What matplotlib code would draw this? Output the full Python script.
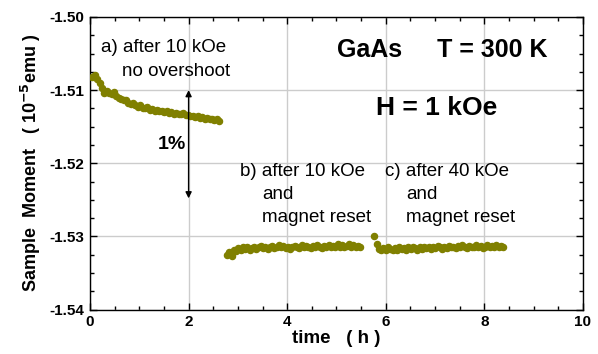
import numpy as np
import matplotlib
matplotlib.use("Agg")
import matplotlib.pyplot as plt

plt.rcParams["font.family"] = ["Liberation Sans", "DejaVu Sans"]

# ---------------------------------------------------------------------------
# Data
# ---------------------------------------------------------------------------
t_a = np.linspace(0.05, 2.62, 54)
m_a = [-1.5082, -1.5079, -1.5085, -1.5090, -1.5097, -1.5104, -1.5101, -1.5104,
       -1.5105, -1.5103, -1.5108, -1.5111, -1.5112, -1.5114, -1.5113, -1.5117,
       -1.5119, -1.5118, -1.5121, -1.5123, -1.5121, -1.5124, -1.5125, -1.5123,
       -1.5127, -1.5126, -1.5128, -1.5127, -1.5129, -1.5128, -1.5130, -1.5129,
       -1.5131, -1.5130, -1.5132, -1.5131, -1.5132, -1.5133, -1.5131, -1.5134,
       -1.5134, -1.5136, -1.5135, -1.5137, -1.5136, -1.5138, -1.5137, -1.5139,
       -1.5138, -1.5140, -1.5139, -1.5141, -1.5140, -1.5142]

t_b = np.linspace(2.78, 5.48, 60)
m_b = [-1.5325, -1.5321, -1.5327, -1.5318, -1.5320, -1.5316, -1.5319, -1.5315,
       -1.5317, -1.5314, -1.5318, -1.5316, -1.5314, -1.5317, -1.5315, -1.5313,
       -1.5316, -1.5314, -1.5317, -1.5315, -1.5313, -1.5316, -1.5314, -1.5312,
       -1.5315, -1.5313, -1.5316, -1.5314, -1.5317, -1.5315, -1.5313, -1.5314,
       -1.5316, -1.5312, -1.5315, -1.5313, -1.5314, -1.5316, -1.5313, -1.5315,
       -1.5312, -1.5314, -1.5316, -1.5313, -1.5315, -1.5312, -1.5314, -1.5313,
       -1.5315, -1.5311, -1.5314, -1.5312, -1.5315, -1.5313, -1.5311, -1.5314,
       -1.5312, -1.5314, -1.5313, -1.5315]

t_c = np.linspace(5.77, 8.38, 58)
m_c = [-1.5300, -1.5311, -1.5317, -1.5319, -1.5316, -1.5318, -1.5315, -1.5317,
       -1.5319, -1.5316, -1.5318, -1.5315, -1.5317, -1.5316, -1.5318, -1.5315,
       -1.5317, -1.5314, -1.5316, -1.5318, -1.5315, -1.5317, -1.5314, -1.5316,
       -1.5315, -1.5317, -1.5314, -1.5316, -1.5313, -1.5315, -1.5317, -1.5314,
       -1.5316, -1.5313, -1.5315, -1.5314, -1.5316, -1.5313, -1.5315, -1.5312,
       -1.5314, -1.5316, -1.5313, -1.5315, -1.5314, -1.5312, -1.5315, -1.5313,
       -1.5316, -1.5314, -1.5312, -1.5315, -1.5313, -1.5314, -1.5312, -1.5315,
       -1.5313, -1.5314]

x_ticks = [0, 2, 4, 6, 8, 10]
y_ticks = [-1.54, -1.53, -1.52, -1.51, -1.50]

OLIVE = "#808000"

fig = plt.figure(figsize=(5.98, 3.54), dpi=100)
ax = fig.add_axes([0.1505, 0.1257, 0.8244, 0.8263])

for t, m in ((t_a, m_a), (t_b, m_b), (t_c, m_c)):
    ax.plot(t, m, "o", color=OLIVE, ms=4.4, mec=OLIVE, zorder=3)

ax.set_xlim(0, 10)
ax.set_ylim(-1.54, -1.50)
ax.set_xticks(x_ticks)
ax.set_yticks(y_ticks)
ax.set_xticks(np.arange(0, 10.01, 0.5), minor=True)
ax.set_yticks(np.arange(-1.54, -1.4999, 0.0025), minor=True)
ax.set_yticklabels([f"{v:.2f}" for v in y_ticks])
ax.grid(True, which="major", color="#cccccc", lw=1.0, zorder=0)
ax.tick_params(which="both", direction="in", top=True, right=True,
               labelsize=11, width=1.0)
ax.tick_params(which="major", length=5, pad=4)
ax.tick_params(which="minor", length=3)
for lab in ax.get_xticklabels() + ax.get_yticklabels():
    lab.set_fontweight("bold")
for s in ax.spines.values():
    s.set_linewidth(1.0)

ax.set_xlabel("time   ( h )", fontsize=13.5, fontweight="bold", labelpad=1)
ax.set_ylabel("Sample  Moment   ( 10$^{\\mathbf{-5}}$emu )", fontsize=13,
              fontweight="bold", labelpad=5)

# annotations
ax.text(0.22, -1.50424, "a) after 10 kOe", ha="left", va="center", fontsize=13.5)
ax.text(0.65, -1.50752, "no overshoot", ha="left", va="center", fontsize=13.5)
ax.text(7.14, -1.50451, "GaAs     T = 300 K", ha="center", va="center",
        fontsize=18, fontweight="bold")
ax.text(7.04, -1.51245, "H = 1 kOe", ha="center", va="center",
        fontsize=19, fontweight="bold")
ax.text(1.66, -1.51737, "1%", ha="center", va="center",
        fontsize=14, fontweight="bold")
ax.annotate("", xy=(2.0, -1.5100), xytext=(2.0, -1.5248),
            arrowprops=dict(arrowstyle="<|-|>", color="black", lw=1.0,
                            mutation_scale=9, shrinkA=0, shrinkB=0))

notes = [(3.04, 3.49, "b) after 10 kOe"), (5.98, 6.41, "c) after 40 kOe")]
for x_head, x_body, head in notes:
    ax.text(x_head, -1.52107, head, ha="left", va="center", fontsize=13.5)
    ax.text(x_body, -1.52421, "and", ha="left", va="center", fontsize=13.5)
    ax.text(x_body, -1.52736, "magnet reset", ha="left", va="center",
            fontsize=13.5)

fig.savefig("out.png", dpi=100)
